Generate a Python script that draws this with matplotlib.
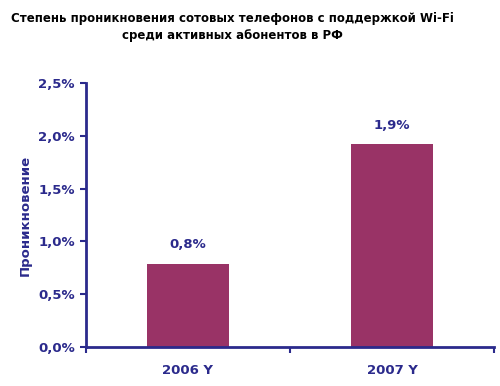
import matplotlib
matplotlib.use("Agg")
import matplotlib.pyplot as plt
import matplotlib.ticker as ticker

# data
years = ['2006 Y', '2007 Y']
penetration = [0.79, 1.92]
value_labels = ['0,8%', '1,9%']
y_ticks = [0.0, 0.5, 1.0, 1.5, 2.0, 2.5]

navy = '#2b2a8c'
bar_color = '#993366'

fig = plt.figure(figsize=(5, 3.86), dpi=100)
ax = fig.add_axes([0.172, 0.101, 0.816, 0.684])

x = range(len(years))
ax.bar(x, penetration, width=0.4, color=bar_color)
for i, v in enumerate(penetration):
    ax.text(i, v + 0.12, value_labels[i], ha='center', va='bottom',
            color=navy, fontsize=9.5, fontweight='bold')

ax.set_xlim(-0.5, len(years) - 0.5)
ax.set_ylim(0, 2.5)
ax.set_yticks(y_ticks)
ax.yaxis.set_major_formatter(ticker.FuncFormatter(
    lambda v, p: '{:.1f}%'.format(v).replace('.', ',')))

ax.set_xticks([-0.5, 0.5, 1.5])
ax.set_xticklabels([])
ax.set_xticks(list(x), minor=True)
ax.set_xticklabels(years, minor=True)
ax.tick_params(axis='x', which='minor', length=0, pad=12,
               labelcolor=navy, labelsize=9.5)
ax.tick_params(axis='x', which='major', direction='out', length=4,
               width=1.5, color=navy)
ax.tick_params(axis='y', direction='out', length=4, width=1.5,
               color=navy, labelcolor=navy, labelsize=9.5, pad=4)
for lbl in ax.get_xticklabels(minor=True) + ax.get_yticklabels():
    lbl.set_fontweight('bold')

for s in ['top', 'right']:
    ax.spines[s].set_visible(False)
for s in ['left', 'bottom']:
    ax.spines[s].set_color(navy)
    ax.spines[s].set_linewidth(2)

fig.text(0.05, 0.443, 'Проникновение', rotation=90, ha='center', va='center',
         color=navy, fontsize=9.5, fontweight='bold')
fig.text(0.464, 0.968, 'Степень проникновения сотовых телефонов с поддержкой Wi-Fi\nсреди активных абонентов в РФ',
         ha='center', va='top', fontsize=8.5, fontweight='bold',
         linespacing=1.35)

fig.savefig('out.png', dpi=100)
